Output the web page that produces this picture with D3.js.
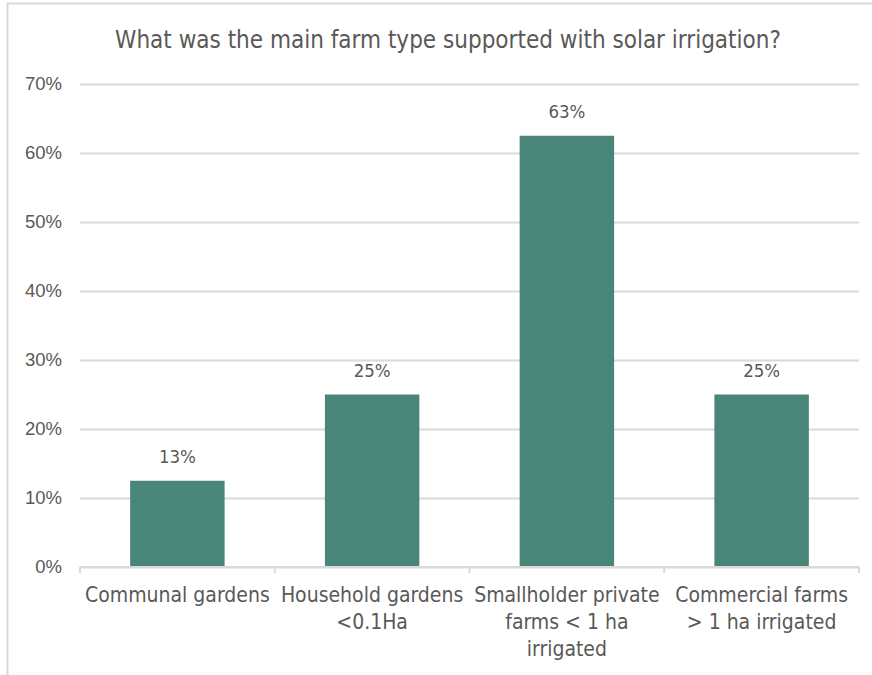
<!DOCTYPE html>
<html>
<head>
<meta charset="utf-8">
<script src="https://cdn.jsdelivr.net/npm/d3@7"></script>
<style>
  body { margin: 0; background: #fff; }
  svg { display: block; font-family: "DejaVu Sans Condensed", "DejaVu Sans", sans-serif; }
</style>
</head>
<body>
<div id="chart"></div>
<script>
// chart data
const title = 'What was the main farm type supported with solar irrigation?';
const categories = ['Communal gardens', 'Household gardens', 'Smallholder private', 'Commercial farms'];
// wrapped axis labels, one array of lines per category
const categoryLines = [
  ['Communal gardens'],
  ['Household gardens', '<0.1Ha'],
  ['Smallholder private', 'farms < 1 ha', 'irrigated'],
  ['Commercial farms', '> 1 ha irrigated']
];
const shares = [0.125, 0.25, 0.625, 0.25];
const yTicks = [0, 0.1, 0.2, 0.3, 0.4, 0.5, 0.6, 0.7];

const w = 872, h = 675;
const margin = { left: 80, right: 13, top: 84, bottom: 108 };
const textColor = '#595959';
const gridColor = '#d9d9d9';
const barColor = '#4a857a';

const svg = d3.select('#chart')
  .append('svg')
  .attr('width', w)
  .attr('height', h);

// light chart frame (runs off the right and bottom edges)
svg.append('rect')
  .attr('x', 7.5)
  .attr('y', 3.5)
  .attr('width', w + 10)
  .attr('height', h + 10)
  .attr('fill', 'none')
  .attr('stroke', gridColor)
  .attr('stroke-width', 2);

const x = d3.scaleBand()
  .domain(categories)
  .range([margin.left, w - margin.right])
  .paddingInner(0.515)
  .paddingOuter(0.2575);

const y = d3.scaleLinear()
  .domain([0, 0.7])
  .range([h - margin.bottom, margin.top]);

// title
svg.append('text')
  .attr('x', 448)
  .attr('y', 48)
  .attr('text-anchor', 'middle')
  .attr('fill', textColor)
  .style('font-size', '24px')
  .text(title);

// gridlines + y labels
const yAxis = d3.axisLeft(y)
  .tickValues(yTicks)
  .tickSize(-(w - margin.left - margin.right))
  .tickPadding(18)
  .tickFormat(d3.format('.0%'));

const gy = svg.append('g')
  .attr('transform', `translate(${margin.left},0)`)
  .call(yAxis);
gy.select('.domain').remove();
gy.selectAll('.tick line')
  .attr('stroke', gridColor)
  .attr('stroke-width', 2);
gy.selectAll('.tick text')
  .attr('fill', textColor)
  .style('font-size', '18.5px');

// bars
svg.append('g')
  .selectAll('rect')
  .data(shares)
  .join('rect')
  .attr('x', (d, i) => x(categories[i]))
  .attr('y', d => y(d))
  .attr('width', x.bandwidth())
  .attr('height', d => y(0) - y(d))
  .attr('fill', barColor);

// value labels
svg.append('g')
  .selectAll('text')
  .data(shares)
  .join('text')
  .attr('x', (d, i) => x(categories[i]) + x.bandwidth() / 2)
  .attr('y', d => y(d) - 18)
  .attr('text-anchor', 'middle')
  .attr('fill', textColor)
  .style('font-size', '18.5px')
  .text(d => Math.round(d * 100) + '%');

// category axis: baseline + boundary ticks
const step = x.step();
const edges = d3.range(categories.length + 1).map(i => margin.left + i * step);
svg.append('line')
  .attr('x1', margin.left)
  .attr('x2', w - margin.right)
  .attr('y1', y(0))
  .attr('y2', y(0))
  .attr('stroke', gridColor)
  .attr('stroke-width', 2);
svg.append('g')
  .selectAll('line')
  .data(edges)
  .join('line')
  .attr('x1', d => d)
  .attr('x2', d => d)
  .attr('y1', y(0))
  .attr('y2', y(0) + 6)
  .attr('stroke', gridColor)
  .attr('stroke-width', 2);

// category labels
const labels = svg.append('g')
  .selectAll('text')
  .data(categoryLines)
  .join('text')
  .attr('text-anchor', 'middle')
  .attr('fill', textColor)
  .style('font-size', '21px');

labels.selectAll('tspan')
  .data((lines, i) => lines.map(t => ({ t, i })))
  .join('tspan')
  .attr('x', d => x(categories[d.i]) + x.bandwidth() / 2)
  .attr('y', (d, j) => y(0) + 35 + j * 27)
  .text(d => d.t);
</script>
</body>
</html>
